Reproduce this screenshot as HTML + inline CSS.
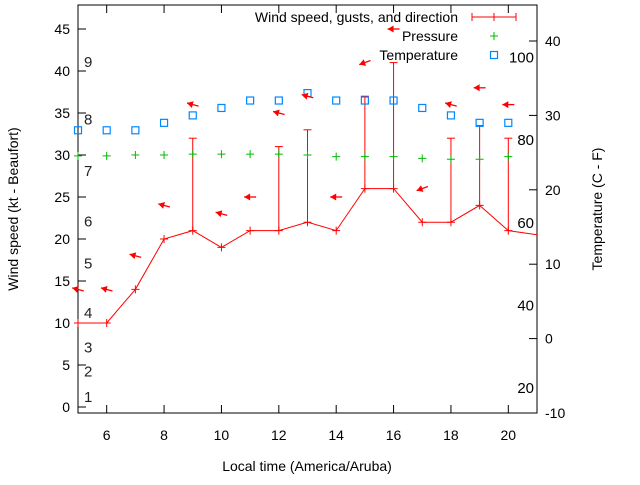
<!DOCTYPE html>
<html><head><meta charset="utf-8"><style>
body{margin:0;background:#fff}
svg{font-family:"Liberation Sans",sans-serif;font-size:14px}
</style></head><body>
<svg id="c" width="640" height="480"></svg>
<script>
const hours=[5,6,7,8,9,10,11,12,13,14,15,16,17,18,19,20,21];
const wind=[10,10,14,20,21,19,21,21,22,21,26,26,22,22,24,21,20.5];
const gustHours=[9,12,13,15,16,18,19,20];
const gusts=[32,31,33,37,41,32,33.5,32];
const presHours=[5,6,7,8,9,10,11,12,13,14,15,16,17,18,19,20];
const pressure=[29.9,29.9,30,30,30.1,30.1,30.1,30.1,30,29.8,29.8,29.8,29.6,29.5,29.5,29.8];
const tempHours=[5,6,7,8,9,10,11,12,13,14,15,16,17,18,19,20];
const temps=[28,28,28,29,30,31,32,32,33,32,32,32,31,30,29,29];
const dirHours=[5,6,7,8,9,10,11,12,13,14,15,16,17,18,19,20];
const dirLevel=[14,14,18,24,36,23,25,35,37,25,41,45,26,36,38,36];
const dirDeg=[105,105,105,105,105,105,90,105,105,90,70,90,70,105,90,90];
const leftTicks=[0,5,10,15,20,25,30,35,40,45];
const rightTicks=[-10,0,10,20,30,40];
const xTicks=[6,8,10,12,14,16,18,20];
const beaufort=[[1,1.2],[2,4.2],[3,7.1],[4,11.2],[5,17.1],[6,22.1],[7,28.1],[8,34.2],[9,41.1]];
const fahr=[20,40,60,80,100];

const L=78,R=537,T=5,B=413;
const X=h=>L+(h-5)*(R-L)/16;
const Y=v=>407-v*8.4;
const YT=t=>338.6-t*7.44;
const svg=document.getElementById('c');
const NS='http://www.w3.org/2000/svg';
function el(tag,a,p){const e=document.createElementNS(NS,tag);for(const k in a)e.setAttribute(k,a[k]);(p||svg).appendChild(e);return e;}
function txt(s,a){const e=el('text',a);e.textContent=s;return e;}

const frame=el('rect',{x:L,y:T,width:R-L,height:B-T,fill:'none',stroke:'#000','stroke-width':1});



leftTicks.forEach(v=>{
 const y=Y(v);
 const t=el('line',{x1:L,x2:L+8,y1:y,y2:y,stroke:'#000'});
 
 
 const l=txt(v,{x:70,y:y+5,'text-anchor':'end'});
 
 
});
rightTicks.forEach(v=>{
 const y=YT(v);
 const t=el('line',{x1:R-8,x2:R,y1:y,y2:y,stroke:'#000'});
 
 
 const l=txt(v,{x:545,y:y+5});
 
 
});
xTicks.forEach(h=>{
 const x=X(h);
 const t=el('line',{x1:x,x2:x,y1:B,y2:B-8,stroke:'#000'});
 
 
 const t2=el('line',{x1:x,x2:x,y1:T,y2:T+8,stroke:'#000'});
 
 
 const l=txt(h,{x:x,y:440,'text-anchor':'middle'});
 
 
});
beaufort.forEach(([n,v])=>{
 const l=txt(n,{x:84,y:Y(v)+5,fill:'#222','font-size':15});
 
 
});
fahr.forEach(f=>{
 const l=txt(f,{x:534,y:YT((f-32)*5/9)+5,'text-anchor':'end','font-size':15});
 
 
});

const xl=txt('Local time (America/Aruba)',{x:307,y:471,'text-anchor':'middle'});


const yl=txt('Wind speed (kt - Beaufort)',{x:0,y:0,'text-anchor':'middle',transform:'translate(18,209) rotate(-90)'});


const yr=txt('Temperature (C - F)',{x:0,y:0,'text-anchor':'middle',transform:'translate(602,209) rotate(-90)'});



gustHours.forEach((h,i)=>{
 const x=X(h),wi=hours.indexOf(h);
 const g=el('line',{x1:x,x2:x,y1:Y(wind[wi]),y2:Y(gusts[i]),stroke:'#f00'});
 
 
 const c=el('line',{x1:x-4,x2:x+4,y1:Y(gusts[i]),y2:Y(gusts[i]),stroke:'#f00'});
 
 
});
const wl=el('polyline',{points:hours.map((h,i)=>X(h)+','+Y(wind[i])).join(' '),fill:'none',stroke:'#f00'});


hours.forEach((h,i)=>{
 if(h>20)return;
 const x=X(h),y=Y(wind[i]);
 const p=el('path',{d:`M${x-4},${y}H${x+4}M${x},${y-4}V${y+4}`,stroke:'#f00'});
 
 
});
presHours.forEach((h,i)=>{
 const x=X(h),y=Y(pressure[i]);
 const p=el('path',{d:`M${x-4},${y}H${x+4}M${x},${y-4}V${y+4}`,stroke:'#0b0'});
 
 
});
tempHours.forEach((h,i)=>{
 const x=X(h),y=YT(temps[i]);
 const r=el('rect',{x:x-3.5,y:y-3.5,width:7,height:7,fill:'none',stroke:'#08f','stroke-width':1.2});
 
 
});
dirHours.forEach((h,i)=>{
 const x=X(h),y=Y(dirLevel[i]);
 const a=(dirDeg[i]+180)*Math.PI/180;
 const dx=Math.sin(a),dy=-Math.cos(a);
 const hx=x+dx*6,hy=y+dy*6,tx=x-dx*6,ty=y-dy*6;
 const g=el('g',{});
 
 
 el('line',{x1:tx,y1:ty,x2:hx,y2:hy,stroke:'#f00','stroke-width':1.3},g);
 const px=-dy,py=dx;
 el('polygon',{points:`${hx},${hy} ${hx-dx*6+px*3.5},${hy-dy*6+py*3.5} ${hx-dx*6-px*3.5},${hy-dy*6-py*3.5}`,fill:'#f00'},g);
});

const leg=[['Wind speed, gusts, and direction',17],['Pressure',36],['Temperature',55]];
leg.forEach(([s,y])=>{
 const l=txt(s,{x:458,y:y+5,'text-anchor':'end'});
 
 
});
const ls=el('path',{d:'M472,17H516M472,13V21M516,13V21M494,13V21',stroke:'#f00'});


const lp=el('path',{d:'M490,36H498M494,32V40',stroke:'#0b0'});


const lt=el('rect',{x:490.5,y:51.5,width:7,height:7,fill:'none',stroke:'#08f','stroke-width':1.2});


</script>
</body></html>
